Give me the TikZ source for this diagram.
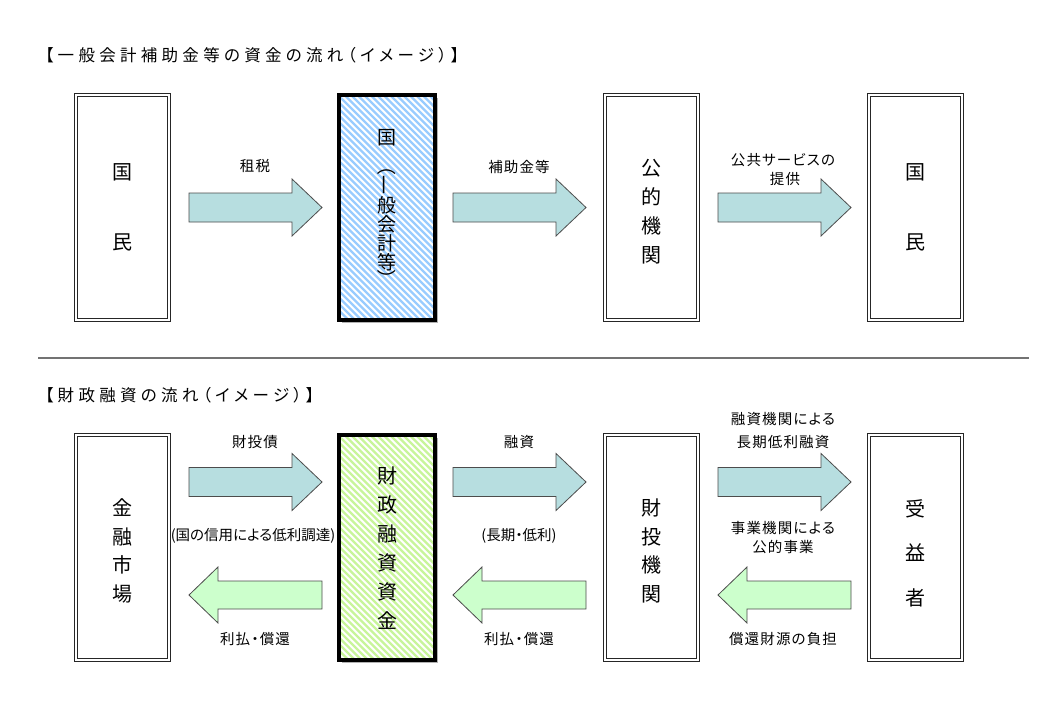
\documentclass[tikz,border=0pt]{standalone}
\usepackage{fontspec}
\usepackage{graphicx}
\newfontfamily\jp{Noto Sans CJK JP}
\newfontfamily\jplbl[LetterSpace=8,RawFeature=+palt]{Noto Sans CJK JP}
\newfontfamily\jplbltight[LetterSpace=0,RawFeature=+palt]{Noto Sans CJK JP}
\newfontfamily\jpttl[LetterSpace=26,RawFeature=+palt]{Noto Sans CJK JP}
\usetikzlibrary{shadows}
\definecolor{arrowcyan}{HTML}{B7DEE0}
\definecolor{arrowgreen}{HTML}{CCFFCC}
\definecolor{hatchblue}{HTML}{99CCFF}
\definecolor{hatchgreen}{HTML}{C8F59A}
\tikzset{
  plainbox/.style={draw=black!85, double=white, double distance=1.4pt, line width=0.9pt,
    minimum width=93pt, minimum height=225pt, inner sep=0pt, outer sep=0pt},
  hatchbox/.style={draw=black, line width=3.5pt, fill=white,
    minimum width=96pt, minimum height=225pt, inner sep=0pt, outer sep=0pt,
    drop shadow={shadow xshift=3pt, shadow yshift=-3pt, fill=black!30, opacity=1},
    path picture={\foreach \a in {-235,-228.5,...,105}
      \draw[#1, line width=2.3pt] ([xshift=\a pt]path picture bounding box.north west) -- ++(240,240);}},
  boxtxt/.style={font=\jp\fontsize{20}{#1}\selectfont, align=center, inner sep=0pt},
  vchar/.style={font=\jp\fontsize{19}{20}\selectfont, inner sep=0pt},
  lbl/.style={font=\jplbl\fontsize{14.5}{17}\selectfont, inner sep=0pt},
  lbltight/.style={font=\jplbltight\fontsize{14.5}{17}\selectfont, inner sep=0pt},
  ttl/.style={font=\jpttl\fontsize{16.5}{18}\selectfont, inner sep=0pt, anchor=west},
  arrowline/.style={draw=black!70, line width=0.8pt, line join=miter},
  sepline/.style={draw=black!55, line width=1.3pt},
  pics/rarrow/.style={code={
    \draw[arrowline, fill=#1] (0,-14.5) -- (103,-14.5) -- (103,-28.5) -- (133,0)
      -- (103,28.5) -- (103,14.5) -- (0,14.5) -- cycle;}},
  pics/larrow/.style={code={
    \draw[arrowline, fill=#1] (0,0) -- (29,-28) -- (29,-14) -- (133,-14)
      -- (133,14) -- (29,14) -- (29,28) -- cycle;}},
}
\begin{document}
\begin{tikzpicture}[x=1pt, y=-1pt]
\useasboundingbox (0,0) rectangle (1039,720);
\fill[white] (0,0) rectangle (1039,720);

% ---------- top section ----------
\node[ttl] (title1) at (45,55) {【一般会計補助金等の資金の流れ（イメージ）】};

\node[plainbox] (kokumin1) at (122.5,207.5) {};
\node[hatchbox=hatchblue] (kuni) at (387,207.5) {};
\node[plainbox] (koteki) at (651.5,207.5) {};
\node[plainbox] (kokumin2) at (915.5,207.5) {};

\node[boxtxt=70] (k1txt) at (kokumin1) {国\\民};
\node[boxtxt=70] (k2txt) at (kokumin2) {国\\民};
\node[boxtxt=29] (ktxt) at (651.5,212) {公\\的\\機\\関};

\node[vchar] (v1) at (387,138) {国};
\node[vchar] (v2) at (387,166) {\rotatebox[origin=c]{-90}{（}};
\node[vchar] (v3) at (387,185) {\rotatebox[origin=c]{90}{一}};
\node[vchar] (v4) at (387,205) {般};
\node[vchar] (v5) at (387,224) {会};
\node[vchar] (v6) at (387,243) {計};
\node[vchar] (v7) at (387,262) {等};
\node[vchar] (v8) at (387,279) {\rotatebox[origin=c]{-90}{）}};

\pic at (189,207.5) {rarrow=arrowcyan};
\pic at (453,207.5) {rarrow=arrowcyan};
\pic at (718,207.5) {rarrow=arrowcyan};

\node[lbl] (l1) at (255,166) {租税};
\node[lbl] (l2) at (519,167) {補助金等};
\node[lbl] (l3a) at (783,160) {公共サービスの};
\node[lbl] (l3b) at (785,179) {提供};

% separator
\coordinate (sepL) at (38,358);
\coordinate (sepR) at (1029,358);
\draw[sepline] (sepL) -- (sepR);

% ---------- bottom section ----------
\node[ttl] (title2) at (45,395) {【財政融資の流れ（イメージ）】};

\node[plainbox] (market) at (122.5,547.5) {};
\node[hatchbox=hatchgreen] (fund) at (387,547.5) {};
\node[plainbox] (agency) at (651.5,547.5) {};
\node[plainbox] (benef) at (915.5,547.5) {};

\node[boxtxt=28.5] (mtxt) at (122.5,551) {金\\融\\市\\場};
\node[boxtxt=29] (ftxt) at (387,548) {財\\政\\融\\資\\資\\金};
\node[boxtxt=28.5] (atxt) at (651.5,551) {財\\投\\機\\関};
\node[boxtxt=44.5] (btxt) at (915.5,553) {受\\益\\者};

\pic at (189,482) {rarrow=arrowcyan};
\pic at (453,482) {rarrow=arrowcyan};
\pic at (718,482) {rarrow=arrowcyan};
\pic at (189,595) {larrow=arrowgreen};
\pic at (453,595) {larrow=arrowgreen};
\pic at (718,595) {larrow=arrowgreen};

\node[lbl] (b1a) at (255,442) {財投債};
\node[lbltight] (b1b) at (253,536) {(国の信用による低利調達)};
\node[lbl] (b1c) at (255,639) {利払・償還};
\node[lbl] (b2a) at (519,442) {融資};
\node[lbltight] (b2b) at (519,536) {(長期・低利)};
\node[lbl] (b2c) at (519,639) {利払・償還};
\node[lbl] (b3a) at (783,419) {融資機関による};
\node[lbl] (b3b) at (783,442) {長期低利融資};
\node[lbl] (b3c) at (783,528) {事業機関による};
\node[lbl] (b3d) at (783,547) {公的事業};
\node[lbl] (b3e) at (783,639) {償還財源の負担};
\end{tikzpicture}
\end{document}
